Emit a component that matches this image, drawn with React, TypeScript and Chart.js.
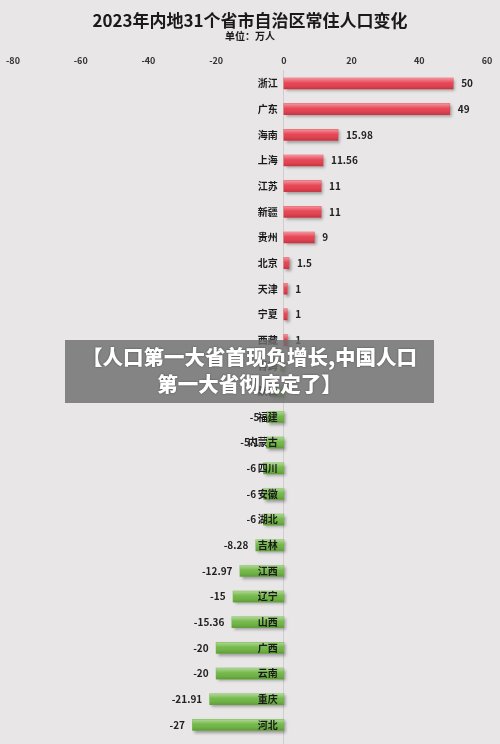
import React, { useEffect, useRef } from 'react';
import { Chart, registerables } from 'chart.js';

Chart.register(...registerables);

const TITLE = '2023年内地31个省市自治区常住人口变化';
const SUBTITLE = '单位：万人';
const BANNER_LINES = ['【人口第一大省首现负增长,中国人口', '第一大省彻底定了】'];

const provinces = [
  '浙江', '广东', '海南', '上海', '江苏', '新疆', '贵州', '北京', '天津', '宁夏', '西藏',
  '青海', '陕西', '福建', '内蒙古', '四川', '安徽', '湖北', '吉林', '江西', '辽宁', '山西',
  '广西', '云南', '重庆', '河北', '甘肃', '湖南', '黑龙江', '山东', '河南',
];
const changes = [
  50, 49, 15.98, 11.56, 11, 11, 9, 1.5, 1, 1, 1,
  -1, -4, -5, -5.1, -6, -6, -6, -8.28, -12.97, -15, -15.36,
  -20, -20, -21.91, -27, -27, -36, -37, -40, -57,
];
const xMin = -80;
const xMax = 60;
const xStep = 20;

const FONT = '"Noto Sans CJK SC", "Noto Sans", sans-serif';
const RED = '#e63c4b';
const GREEN = '#6db540';

const barFx = {
  id: 'barFx',
  beforeDatasetsDraw(chart: any) {
    const ctx = chart.ctx;
    ctx.save();
    ctx.shadowColor = 'rgba(0,0,0,0.35)';
    ctx.shadowBlur = 3;
    ctx.shadowOffsetX = 2;
    ctx.shadowOffsetY = 2;
  },
  afterDatasetsDraw(chart: any) {
    const ctx = chart.ctx;
    ctx.restore();
    const meta = chart.getDatasetMeta(0);
    const data = chart.data.datasets[0].data as number[];
    const labels = chart.data.labels as string[];
    const zeroX = chart.scales.x.getPixelForValue(0);
    ctx.save();
    meta.data.forEach((bar: any) => {
      const left = Math.min(bar.x, bar.base);
      const w = Math.abs(bar.x - bar.base);
      const top = bar.y - bar.height / 2;
      const h = bar.height;
      const g = ctx.createLinearGradient(0, top, 0, top + h);
      g.addColorStop(0, 'rgba(255,255,255,0.45)');
      g.addColorStop(0.45, 'rgba(255,255,255,0.05)');
      g.addColorStop(1, 'rgba(0,0,0,0.15)');
      ctx.fillStyle = g;
      ctx.fillRect(left, top, w, h);
    });
    ctx.textBaseline = 'middle';
    ctx.fillStyle = '#1a1a1a';
    ctx.font = `bold 10px ${FONT}`;
    ctx.textAlign = 'right';
    meta.data.forEach((bar: any, i: number) => {
      ctx.fillText(labels[i], zeroX - 6, bar.y);
    });
    ctx.fillStyle = '#222';
    meta.data.forEach((bar: any, i: number) => {
      const v = data[i];
      const txt = String(v);
      if (v >= 0) {
        ctx.textAlign = 'left';
        ctx.fillText(txt, bar.x + 8, bar.y);
      } else {
        ctx.textAlign = 'right';
        ctx.fillText(txt, bar.x - 7.5, bar.y);
      }
    });
    ctx.restore();
  },
};

export default function App() {
  const ref = useRef<HTMLCanvasElement>(null);
  useEffect(() => {
    document.body.style.margin = '0';
    const chart = new Chart(ref.current!, {
      type: 'bar',
      data: {
        labels: provinces,
        datasets: [
          {
            data: changes,
            backgroundColor: changes.map((v) => (v >= 0 ? RED : GREEN)),
            barThickness: 11,
            borderWidth: 0,
          },
        ],
      },
      plugins: [barFx],
      options: {
        indexAxis: 'y',
        responsive: false,
        animation: false,
        layout: { padding: { left: 13, right: 13, top: 0, bottom: 2 } },
        plugins: {
          legend: { display: false },
          tooltip: { enabled: false },
          title: {
            display: true,
            text: TITLE,
            color: '#1a1a1a',
            font: { family: FONT, size: 17, weight: 'bold', lineHeight: 1.2 },
            padding: { top: 10, bottom: 0 },
          },
          subtitle: {
            display: true,
            text: SUBTITLE,
            color: '#1a1a1a',
            font: { family: FONT, size: 10, weight: 'bold', lineHeight: 1.2 },
            padding: { top: 0, bottom: 7.5 },
          },
        },
        scales: {
          x: {
            position: 'top',
            min: xMin,
            max: xMax,
            ticks: {
              stepSize: xStep,
              color: '#333',
              padding: 5,
              font: { family: FONT, size: 9, weight: 'bold', lineHeight: 1.2 },
            },
            grid: { display: false, drawTicks: false },
            border: { display: false },
          },
          y: {
            position: { x: 0 } as any,
            ticks: { display: false },
            grid: { display: false, drawTicks: false },
            border: { display: true, color: '#cfcdcd', width: 1 },
          },
        },
      } as any,
    });
    return () => chart.destroy();
  }, []);

  return (
    <div
      style={{
        position: 'fixed',
        left: 0,
        top: 0,
        width: 500,
        height: 744,
        overflow: 'hidden',
        background: '#e8e6e6',
      }}
    >
      <canvas ref={ref} width={500} height={868} style={{ display: 'block' }} />
      <div
        style={{
          position: 'absolute',
          left: 65,
          top: 340,
          width: 369,
          height: 63,
          background: 'rgba(110,110,110,0.82)',
          color: '#fff',
          fontFamily: FONT,
          fontWeight: 900,
          fontSize: 20.5,
          lineHeight: '27px',
          textAlign: 'center',
          paddingTop: 3,
          boxSizing: 'border-box',
          textShadow: '0 0 2px rgba(0,0,0,0.45)',
          whiteSpace: 'nowrap',
        }}
      >
        <div>{BANNER_LINES[0]}</div>
        <div>{BANNER_LINES[1]}</div>
      </div>
    </div>
  );
}
